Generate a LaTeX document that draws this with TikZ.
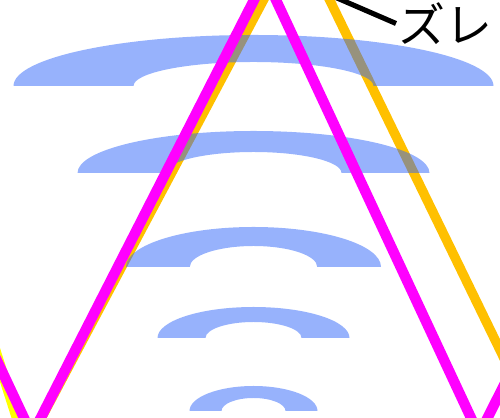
\documentclass[tikz,border=0pt]{standalone}
\usepackage{fontspec}
\newfontfamily\jpfont{Noto Sans CJK JP}
\begin{document}
\begin{tikzpicture}[x=0.02cm,y=0.02cm,
  ring/.style={fill=ringblue,fill opacity=0.5},
  wave/.style={line width=5.9pt},
  leader/.style={line width=2.9pt,black}]
\definecolor{ringblue}{RGB}{48,102,250}
\definecolor{drift}{RGB}{255,192,0}
\definecolor{base}{RGB}{255,255,0}
\definecolor{ref}{RGB}{255,0,255}
\useasboundingbox (0,0) rectangle (500,418);
\clip (0,0) rectangle (500,418);
% the two waves lying under the rings
\draw[wave,base] (-117,418) -- (24,-22);
\draw[wave,drift,line width=5.4pt] (27,-27) -- (298,483) -- (573,-82);
% half rings, from the top one down
\foreach \yb/\a/\b/\bi in {332/240/51/24, 245/176/42/21, 151/127.5/40/21, 80/96/31/16, 7/64/25/13}{
  \pgfmathsetmacro\ai{\a/2}
  \fill[ring] ({253.5-\a},\yb) arc[start angle=180,end angle=0,x radius=\a,y radius=\b]
    -- ({253.5+\ai},\yb) arc[start angle=0,end angle=180,x radius=\ai,y radius=\bi] -- cycle;
}
% the wave on top
\draw[wave,ref] (-183,440) -- (32,-17) -- (265.5,440.5) -- (479,-17) -- (708,440);
\coordinate (gap) at (300,436);
\node[anchor=west,inner sep=1pt,font=\jpfont\fontsize{26.7}{30}\selectfont] (shift) at (396,394.5) {ズレ};
\draw[leader] (shift.west) -- (gap);
\end{tikzpicture}
\end{document}
